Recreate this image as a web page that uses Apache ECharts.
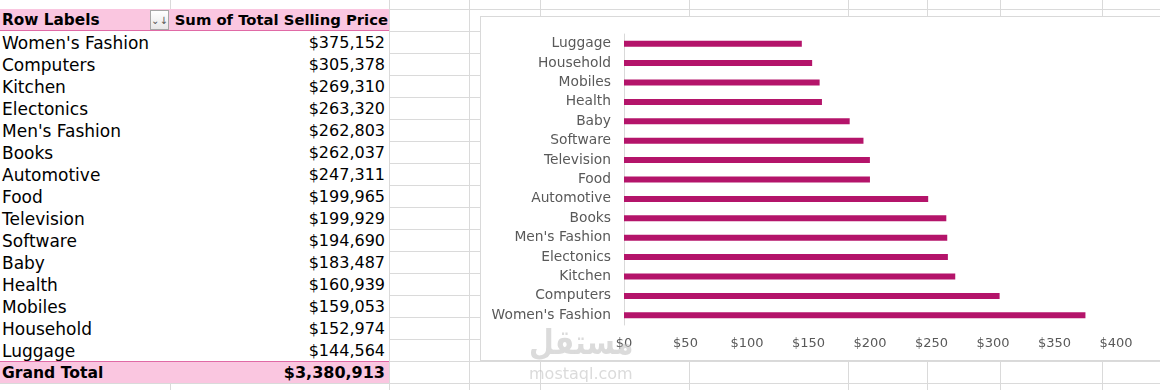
<!DOCTYPE html>
<html>
<head>
<meta charset="utf-8">
<script src="https://cdn.jsdelivr.net/npm/echarts@6/dist/echarts.min.js"></script>
<style>
  html, body { margin: 0; padding: 0; background: #fff; }
  body { width: 1160px; height: 390px; position: relative; overflow: hidden; font-family: "DejaVu Sans", sans-serif; }
  .gl { position: absolute; background: #DADADA; }
  .cell { position: absolute; height: 22px; line-height: 24px; white-space: nowrap; color: #000; }
  #sheet { position: absolute; left: 0; top: 9px; width: 389px; height: 374px; background: #fff; }
  #chartBox { position: absolute; left: 480px; top: 16px; width: 700px; height: 345px; box-sizing: border-box; border: 1px solid #D9D9D9; background: #fff; }
  #chart { position: absolute; left: 1px; top: 1px; width: 698px; height: 343px; }
  .wm { position: absolute; color: #BDBDBD; opacity: 0.55; pointer-events: none; white-space: nowrap; transform-origin: 0 0; }
</style>
</head>
<body>
<div id="grid"></div>
<div id="sheet"></div>
<div id="chartBox"><div id="chart"></div></div>
<div class="wm" style="left:529px; top:322px; font-size:34px; font-weight:bold; transform:scaleX(0.84);">مستقل</div>
<div class="wm" style="left:529px; top:364px; font-size:16px;">mostaql.com</div>
<script>
// ---- data ----
const headerLabels = ["Row Labels", "Sum of Total Selling Price"];
const categories = ["Women's Fashion", "Computers", "Kitchen", "Electonics", "Men's Fashion", "Books", "Automotive", "Food", "Television", "Software", "Baby", "Health", "Mobiles", "Household", "Luggage"];
const sellingPrice = [375152, 305378, 269310, 263320, 262803, 262037, 247311, 199965, 199929, 194690, 183487, 160939, 159053, 152974, 144564];
const grandTotalLabel = "Grand Total";
const grandTotalValue = 3380913;
const xTickValues = [0, 50000, 100000, 150000, 200000, 250000, 300000, 350000, 400000];

// ---- spreadsheet gridlines ----
const g = document.getElementById('grid');
function line(x, y, w, h) { const d = document.createElement('div'); d.className = 'gl'; d.style.left = x + 'px'; d.style.top = y + 'px'; d.style.width = w + 'px'; d.style.height = h + 'px'; g.appendChild(d); }
for (let y = 9; y < 390; y += 22) line(0, y, 1160, 1);
[170, 389, 469, 540, 689, 848, 927, 1000, 1102].forEach(x => line(x, 0, 1, 390));

// ---- pivot table ----
const sheet = document.getElementById('sheet');
function cell(txt, x, y, opts) {
  const d = document.createElement('div'); d.className = 'cell'; d.textContent = txt;
  d.style.top = y + 'px';
  if (opts.right !== undefined) { d.style.right = opts.right + 'px'; } else { d.style.left = x + 'px'; }
  d.style.fontSize = opts.size + 'px';
  if (opts.bold) d.style.fontWeight = 'bold';
  sheet.appendChild(d);
}
const hb = document.createElement('div');
hb.style.cssText = 'position:absolute;left:0;top:0;width:389px;height:22px;background:#FAC6E0;border-bottom:1px solid #E06AA6;box-sizing:border-box;';
sheet.appendChild(hb);
const fb = document.createElement('div');
fb.style.cssText = 'position:absolute;left:150px;top:1px;width:19px;height:20px;box-sizing:border-box;border:1px solid #A6A6A6;background:linear-gradient(#fff,#e8e8e8);font-size:10px;line-height:19px;text-align:center;color:#555;';
fb.textContent = '⌄↓';
sheet.appendChild(fb);
cell(headerLabels[0], 2, -1, { size: 15.3, bold: true });
cell(headerLabels[1], 0, -1, { size: 14.8, bold: true, right: 1 });
const fmt = v => '$' + v.toLocaleString('en-US');
categories.forEach((c, i) => {
  cell(c, 2, 22 * (i + 1), { size: 17 });
  cell(fmt(sellingPrice[i]), 0, 22 * (i + 1), { size: 16, right: 4 });
});
const gb = document.createElement('div');
gb.style.cssText = 'position:absolute;left:0;top:352px;width:389px;height:22px;background:#FAC6E0;border-top:1px solid #E06AA6;box-sizing:border-box;';
sheet.appendChild(gb);
cell(grandTotalLabel, 2, 352, { size: 15.6, bold: true });
cell(fmt(grandTotalValue), 0, 352, { size: 16, bold: true, right: 4 });

// ---- chart ----
const chart = echarts.init(document.getElementById('chart'), null, { renderer: 'canvas' });
chart.setOption({
  animation: false,
  grid: { left: 142, top: 16, width: 492, height: 291, containLabel: false },
  xAxis: {
    type: 'value', min: 0, max: 400000, interval: 50000,
    axisLine: { show: false }, axisTick: { show: false }, splitLine: { show: false },
    axisLabel: { color: '#595959', fontSize: 13, fontFamily: 'DejaVu Sans', margin: 12,
      formatter: v => xTickValues.includes(v) ? '$' + (v / 1000) : '' }
  },
  yAxis: {
    type: 'category', data: categories,
    axisLine: { show: true, lineStyle: { color: '#D9D9D9', width: 1 } },
    axisTick: { show: false },
    axisLabel: { color: '#595959', fontSize: 13.8, fontFamily: 'DejaVu Sans', margin: 13 }
  },
  series: [{
    type: 'bar', data: sellingPrice, barWidth: 6,
    itemStyle: { color: '#B4146A' }
  }]
});
</script>
</body>
</html>
